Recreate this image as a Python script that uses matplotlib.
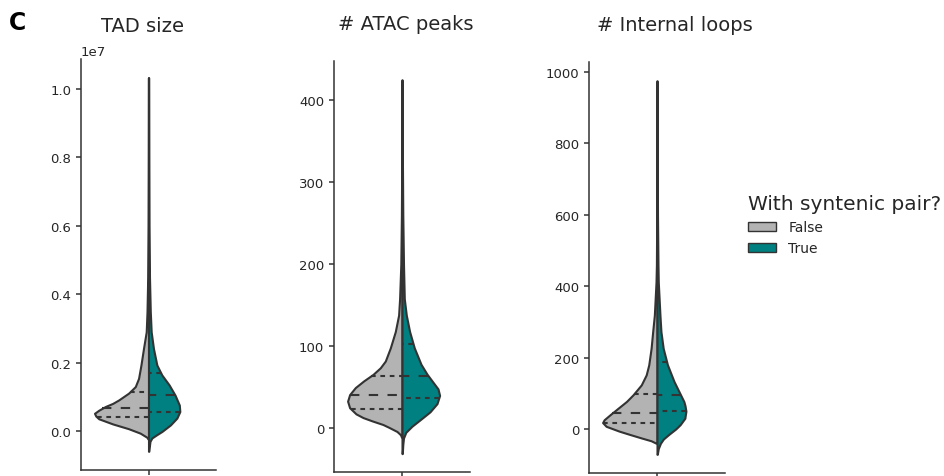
import numpy as np
import matplotlib
matplotlib.use("Agg")
import matplotlib.pyplot as plt
from matplotlib.patches import Patch

# violin outlines: value grid + relative half-width (density)
# TAD size, in Mb
tad_false_y = [-0.22, -0.17, -0.05, 0.08, 0.22, 0.37, 0.45, 0.53, 0.62, 0.73, 0.82, 0.92,
               1.02, 1.12, 1.31, 1.55, 1.94, 2.43, 2.91, 3.5, 4.5, 6.0, 8.0, 10.33]
tad_false_w = [0.5, 1.6, 8.3, 20, 36, 50, 53, 54.3, 50, 43.3, 36, 30,
               25, 20, 13.3, 10, 7.6, 5, 2.3, 1.5, 0.8, 0.4, 0.2, 0.1]
tad_true_y = [-0.58, -0.45, -0.29, -0.19, -0.10, 0.0, 0.19, 0.39, 0.58, 0.77, 1.06,
              1.36, 1.65, 1.94, 2.42, 2.91, 3.5, 4.5, 6.0, 8.0, 10.33]
tad_true_w = [0.3, 0.8, 1.5, 3.4, 8, 13.5, 22, 28.5, 31.5, 31, 26.7,
              20.7, 13.4, 8.4, 5, 2.7, 1.8, 1.0, 0.5, 0.3, 0.15]
tad_false_q = [0.43, 0.68, 1.16]
tad_true_q = [0.57, 1.05, 1.72]

# ATAC peaks
atac_false_y = [-11, -8, -4, 1, 4.5, 9, 13, 17.5, 25, 33, 41, 49.6,
                57.7, 65.7, 73.8, 82, 98, 118, 138, 158, 200, 260, 330, 425]
atac_false_w = [0.5, 1.5, 5, 13, 19, 30, 39, 46, 52.4, 54.4, 52.4, 46.7,
                38.4, 29, 21.7, 16.7, 11.7, 6.7, 3.4, 2.4, 1.2, 0.6, 0.3, 0.1]
atac_true_y = [-31, -20, -12, -5, 2.5, 10.5, 20, 30, 40, 48, 54, 66,
               78, 98, 118, 138, 158, 200, 260, 330, 425]
atac_true_w = [0.3, 0.8, 1.5, 3.8, 10, 18.3, 28, 35, 37.6, 36, 32.3, 25,
               19, 12.3, 7.6, 4.3, 2.3, 1.5, 0.8, 0.4, 0.15]
atac_false_q = [23, 41, 63.7]
atac_true_q = [37, 63.7, 103]

# internal loops
loops_false_y = [-40, -33, -25, -15, -6, 7.5, 18, 26, 40, 58.6, 77.3, 95.7,
                 123.6, 151.5, 179.5, 226, 272.7, 319, 412, 460, 600, 800, 975]
loops_false_w = [0.8, 6, 16, 28, 38.5, 51.7, 55.3, 53.7, 47.7, 39.4, 31, 24.4,
                 16, 11, 8.4, 6, 4.4, 2.7, 1, 0.6, 0.3, 0.2, 0.1]
loops_true_y = [-71, -55, -40, -28, -14, 0, 12, 30, 50, 65, 77, 105,
                133, 180, 226, 273, 319, 412, 460, 600, 800, 975]
loops_true_w = [0.3, 1.3, 3.5, 6.5, 12.5, 19, 23.5, 28.3, 29.4, 28.5, 27.3, 22.3,
                17.3, 10.6, 6.3, 4, 3, 1.3, 1.0, 0.5, 0.3, 0.15]
loops_false_q = [15.5, 45.5, 98]
loops_true_q = [49.5, 95.7, 189]

titles = ["TAD size", "# ATAC peaks", "# Internal loops"]
groups = ["False", "True"]
colors = ["#b3b3b3", "#008080"]
EDGE = "#333333"
TEXT = "#262626"

panels = [
    (1e6, tad_false_y, tad_false_w, tad_false_q, tad_true_y, tad_true_w, tad_true_q),
    (1, atac_false_y, atac_false_w, atac_false_q, atac_true_y, atac_true_w, atac_true_q),
    (1, loops_false_y, loops_false_w, loops_false_q, loops_true_y, loops_true_w, loops_true_q),
]

W, H = 944, 477
fig = plt.figure(figsize=(W / 100, H / 100), dpi=100)

# axes boxes in pixels: left, top, right, bottom
boxes = [(81, 60, 216, 471), (334, 62.3, 470, 473.3), (589, 63.3, 725, 474)]
title_pos = [(142.7, 32), (406, 30.5), (674.7, 31)]


def draw_half(ax, y, w, scale, side, color, quart):
    y = np.asarray(y, dtype=float)
    w = np.asarray(w, dtype=float) * scale
    ax.fill_betweenx(y, 0, side * w, facecolor=color, edgecolor=EDGE, linewidth=1.5, zorder=2)
    styles = [(0, (2.25, 2.25)), (0, (4.5, 4.5)), (0, (2.25, 2.25))]
    for q, ls in zip(quart, styles):
        hw = np.interp(q, y, w)
        ax.plot([side * hw, 0], [q, q], color=EDGE, linewidth=1.5, linestyle=ls, zorder=3)


for i, (mult, fy, fw, fq, ty, tw, tq) in enumerate(panels):
    l, t, r, b = boxes[i]
    ax = fig.add_axes([l / W, 1 - b / H, (r - l) / W, (b - t) / H])
    fy = np.array(fy) * mult
    ty = np.array(ty) * mult
    fq = np.array(fq) * mult
    tq = np.array(tq) * mult
    # seaborn scale="area": widest half gets 0.4
    scale = 0.4 / max(max(fw), max(tw))
    draw_half(ax, fy, fw, scale, -1, colors[0], fq)
    draw_half(ax, ty, tw, scale, 1, colors[1], tq)

    lo = min(fy.min(), ty.min())
    hi = max(fy.max(), ty.max())
    pad = 0.05 * (hi - lo)
    ax.set_ylim(lo - pad, hi + pad)
    ax.set_xlim(-0.5, 0.5)
    ax.set_xticks([0])
    ax.set_xticklabels([""])
    for s in ["top", "right"]:
        ax.spines[s].set_visible(False)
    for s in ["left", "bottom"]:
        ax.spines[s].set_color(EDGE)
        ax.spines[s].set_linewidth(1.1)
    ax.tick_params(colors=EDGE, labelcolor=TEXT, labelsize=9.5, width=1.1, length=3.5)
    ax.yaxis.get_offset_text().set_fontsize(9.5)
    ax.yaxis.get_offset_text().set_color(TEXT)

    tx, ty_ = title_pos[i]
    fig.text(tx / W, 1 - ty_ / H, titles[i], ha="center", va="baseline",
             fontsize=14, color=TEXT)

fig.text(9 / W, 1 - 30 / H, "C", fontsize=17, fontweight="bold", va="baseline", color="black")

handles = [Patch(facecolor=c, edgecolor=EDGE, linewidth=1) for c in colors]
fig.legend(handles, groups, title="With syntenic pair?", frameon=False,
           fontsize=10, title_fontsize=14.5, alignment="left",
           loc="upper left", bbox_to_anchor=(735.5 / W, 1 - 183 / H),
           labelcolor=TEXT, handletextpad=0.9)
leg = fig.legends[0]
leg.get_title().set_color(TEXT)

fig.savefig("out.png", dpi=100)
